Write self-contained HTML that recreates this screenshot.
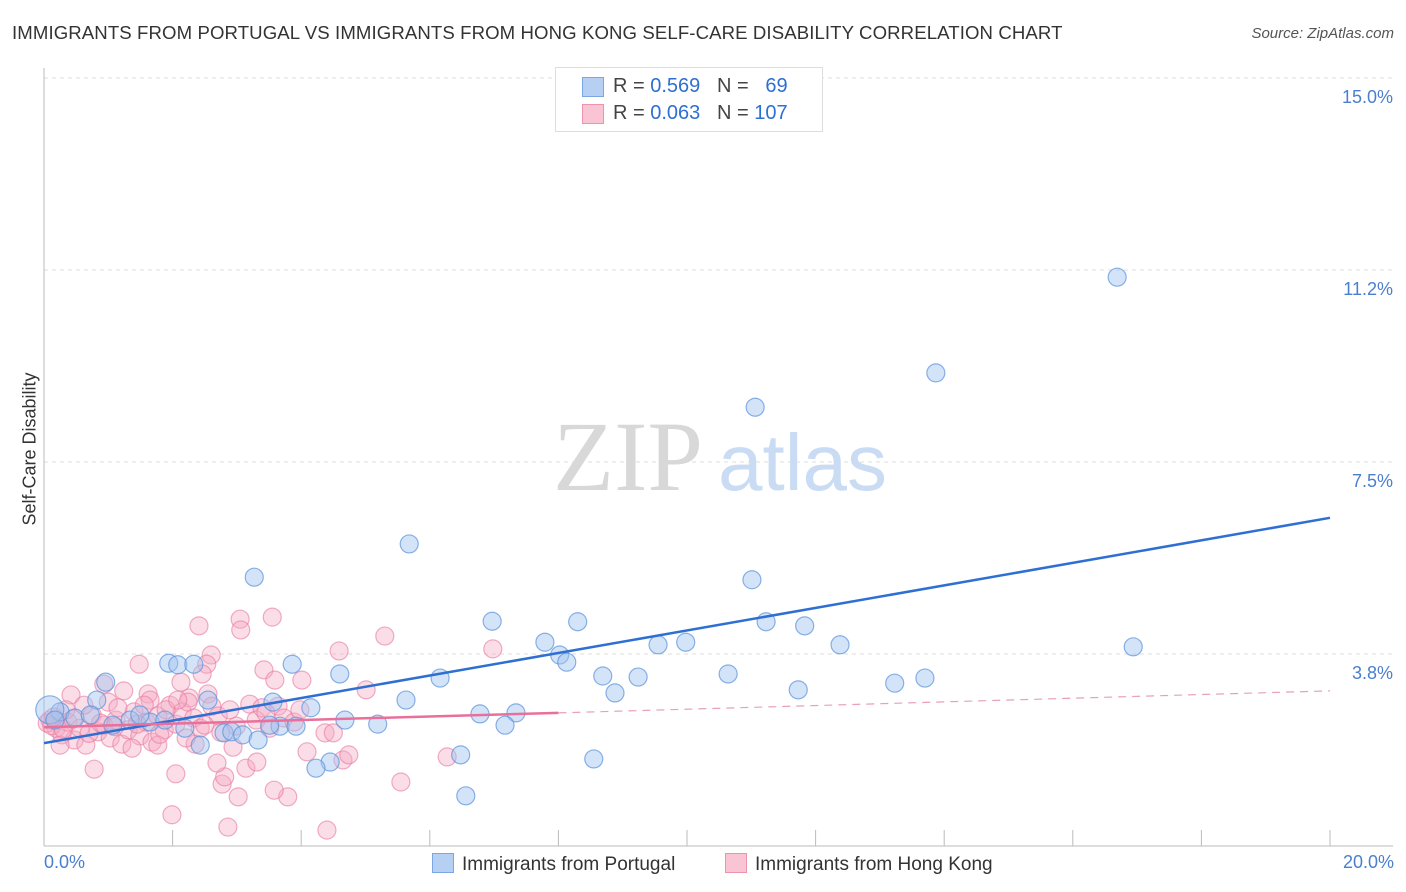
<!DOCTYPE html>
<html><head><meta charset="utf-8">
<style>
body{margin:0;background:#fff;font-family:"Liberation Sans",sans-serif;}
#wrap{position:relative;width:1406px;height:892px;}
.t{position:absolute;white-space:nowrap;}
</style></head><body>
<div id="wrap">
<div class="t" style="left:12px;top:22px;font-size:18.6px;letter-spacing:0.1px;color:#333;">IMMIGRANTS FROM PORTUGAL VS IMMIGRANTS FROM HONG KONG SELF-CARE DISABILITY CORRELATION CHART</div>
<div class="t" style="right:12px;top:25px;font-size:15px;color:#555;font-style:italic;">Source: ZipAtlas.com</div>
<svg id="svg" width="1406" height="892" style="position:absolute;left:0;top:0"></svg>
</div>
<script>
const yTicks=[15.0,11.25,7.5,3.75];
const yTickLabels=["15.0%","11.2%","7.5%","3.8%"];
const blueX=[16.69,13.87,11.06,5.68,3.27,11.01,6.97,8.30,11.23,11.83,7.79,9.55,9.98,12.38,16.94,8.02,8.13,1.94,2.08,2.33,3.86,4.60,6.16,8.69,9.24,10.64,13.23,13.70,8.88,11.73,0.96,0.82,2.55,3.56,5.63,4.15,6.78,7.34,7.17,5.19,4.68,0.25,0.09,0.48,1.07,1.34,1.65,2.19,2.80,2.92,3.09,2.43,3.33,3.67,3.51,3.92,6.48,4.45,4.23,8.55,6.56,0.72,0.17,1.49,1.88];
const blueY=[11.11,9.24,8.57,5.90,5.25,5.20,4.39,4.38,4.38,4.30,3.98,3.93,3.98,3.93,3.89,3.73,3.59,3.57,3.54,3.55,3.55,3.36,3.28,3.32,3.30,3.36,3.18,3.28,2.99,3.05,3.20,2.85,2.85,2.81,2.85,2.70,2.58,2.60,2.36,2.38,2.46,2.62,2.66,2.50,2.36,2.46,2.42,2.30,2.21,2.23,2.17,1.97,2.07,2.34,2.36,2.34,1.78,1.64,1.52,1.70,0.98,2.56,2.46,2.56,2.46];
const pinkX=[2.41,3.05,3.06,3.55,5.30,4.59,6.98,1.48,2.60,2.53,3.42,3.59,4.01,2.46,2.13,0.93,0.42,1.24,1.62,2.26,2.55,5.01,0.78,2.05,1.99,2.86,4.40,3.02,3.79,3.58,2.77,2.81,2.69,3.14,3.31,4.09,4.65,4.74,5.55,6.27,2.35,2.94,4.37,4.50,0.09,0.19,0.28,0.37,0.47,0.56,0.65,0.75,0.84,0.93,1.03,1.12,1.21,1.31,1.40,1.49,1.59,1.68,1.77,1.87,1.96,2.05,2.15,2.24,2.33,2.43,2.61,2.71,2.89,2.99,3.20,3.30,3.39,3.51,3.64,3.73,3.89,3.98,0.25,0.34,0.62,1.00,1.15,1.37,1.65,1.77,1.90,1.56,2.08,2.21,0.05,0.12,0.30,0.45,0.70,0.88,1.10,1.45,1.80,2.50,2.75,3.45,0.15];
const pinkY=[4.30,4.43,4.22,4.47,4.10,3.81,3.85,3.55,3.73,3.55,3.44,3.24,3.24,3.36,3.20,3.16,2.95,3.03,2.97,2.89,2.97,3.05,1.50,1.41,0.61,0.37,0.31,0.96,0.96,1.09,1.21,1.35,1.62,1.52,1.64,1.84,1.68,1.78,1.25,1.74,1.99,1.93,2.21,2.21,2.46,2.30,2.17,2.42,2.07,2.30,1.97,2.56,2.23,2.36,2.11,2.46,1.99,2.27,2.62,2.15,2.42,2.03,2.54,2.27,2.75,2.38,2.62,2.81,2.50,2.30,2.73,2.54,2.66,2.34,2.77,2.46,2.70,2.30,2.73,2.50,2.42,2.66,1.97,2.66,2.75,2.81,2.70,1.91,2.85,1.97,2.66,2.75,2.85,2.11,2.40,2.35,2.28,2.48,2.20,2.40,2.33,2.38,2.18,2.36,2.22,2.60,2.52];
const blueLine=[[0,2.01],[20,6.41]];
const pinkLine=[[0,2.32],[8,2.60],[20,3.03]];
const NS="http://www.w3.org/2000/svg";
const svg=document.getElementById('svg');
const X=v=>44+v*64.3, Y=v=>846-v*51.2;
function mk(tag,attrs,parent){const e=document.createElementNS(NS,tag);for(const k in attrs)e.setAttribute(k,attrs[k]);(parent||svg).appendChild(e);return e;}
yTicks.forEach((t,i)=>{
 const g=mk('line',{x1:44,x2:1393,y1:Y(t),y2:Y(t),stroke:'#ddd','stroke-dasharray':'4,4'});
 
 
 const tx=mk('text',{x:1393,y:Y(t)+25,'text-anchor':'end','font-size':18,fill:'#4a7fd0','font-family':'Liberation Sans'});
 tx.textContent=yTickLabels[i];
 
 
});
mk('line',{x1:44,x2:44,y1:68,y2:846,stroke:'#bbb'});
mk('line',{x1:44,x2:1393,y1:846,y2:846,stroke:'#bbb'});
for(let i=0;i<=10;i++){const tk=mk('line',{x1:X(i*2),x2:X(i*2),y1:830,y2:846,stroke:'#bbb'});
 
 }
const w1=mk('text',{x:553,y:490,'font-size':100,fill:'#d8d8d8','font-family':'Liberation Serif'});w1.textContent='ZIP';


const w2=mk('text',{x:718,y:490,'font-size':80,fill:'#c9dcf3','font-family':'Liberation Sans'});w2.textContent='atlas';


pinkX.forEach((x,i)=>{const c=mk('circle',{cx:X(x),cy:Y(pinkY[i]),r:9,fill:'rgba(245,170,195,0.4)',stroke:'rgba(232,120,160,0.6)','stroke-width':1.2});
 
 });
blueX.forEach((x,i)=>{const c=mk('circle',{cx:X(x),cy:Y(blueY[i]),r:i==42?14:9,fill:'rgba(160,195,240,0.45)',stroke:'rgba(90,145,220,0.7)','stroke-width':1.2});
 
 });
const bl=mk('line',{x1:X(blueLine[0][0]),y1:Y(blueLine[0][1]),x2:X(blueLine[1][0]),y2:Y(blueLine[1][1]),stroke:'#2e6fd3','stroke-width':2.5});


const pl=mk('line',{x1:X(pinkLine[0][0]),y1:Y(pinkLine[0][1]),x2:X(pinkLine[1][0]),y2:Y(pinkLine[1][1]),stroke:'#e8709a','stroke-width':2.5});


const pd=mk('line',{x1:X(pinkLine[1][0]),y1:Y(pinkLine[1][1]),x2:X(pinkLine[2][0]),y2:Y(pinkLine[2][1]),stroke:'#e8a0b8','stroke-width':1.2,'stroke-dasharray':'8,6'});


</script>
<div class="t" style="left:-40px;top:445px;transform:rotate(-90deg);font-size:18px;color:#333;width:140px;text-align:center;">Self-Care Disability</div>
<div class="t" style="left:44px;top:852px;font-size:18px;color:#4a7fd0;">0.0%</div>
<div class="t" style="right:12px;top:852px;font-size:18px;color:#4a7fd0;">20.0%</div>
<div style="position:absolute;left:555px;top:67px;width:266px;height:63px;border:1px solid #ddd;background:#fff;font-size:20px;color:#444;">
 <div style="position:absolute;left:26px;top:9px;width:20px;height:18px;background:#b5d0f3;border:1px solid #7aa6e3;"></div>
 <div class="t" style="left:57px;top:7px;">R = <span style="color:#2e6fd3">0.569</span>&nbsp;&nbsp;&nbsp;N = &nbsp;&nbsp;<span style="color:#2e6fd3">69</span></div>
 <div style="position:absolute;left:26px;top:36px;width:20px;height:18px;background:#f9c4d4;border:1px solid #eb93b0;"></div>
 <div class="t" style="left:57px;top:34px;">R = <span style="color:#2e6fd3">0.063</span>&nbsp;&nbsp;&nbsp;N = <span style="color:#2e6fd3">107</span></div>
</div>
<div style="position:absolute;left:432px;top:853px;font-size:19px;color:#333;">
 <span style="display:inline-block;width:20px;height:18px;background:#b5d0f3;border:1px solid #7aa6e3;vertical-align:-3px;margin-right:8px;"></span>Immigrants from Portugal</div>
<div style="position:absolute;left:725px;top:853px;font-size:19px;color:#333;">
 <span style="display:inline-block;width:20px;height:18px;background:#f9c4d4;border:1px solid #eb93b0;vertical-align:-3px;margin-right:8px;"></span>Immigrants from Hong Kong</div>
</body></html>
